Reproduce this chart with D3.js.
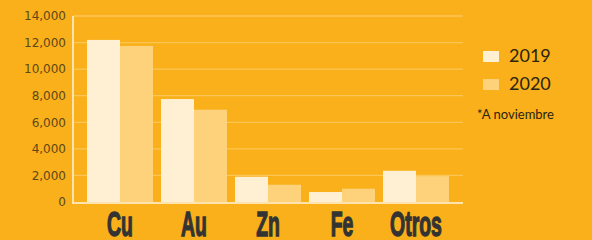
<!DOCTYPE html>
<html>
<head>
<meta charset="utf-8">
<script src="https://cdn.jsdelivr.net/npm/d3@7"></script>
<style>
  html, body { margin: 0; padding: 0; background: #f9b01b; }
  svg { display: block; }
</style>
</head>
<body>
<svg id="chart" width="592" height="240"></svg>
<script>
const categories = ["Cu", "Au", "Zn", "Fe", "Otros"];
const years = ["2019", "2020"];
const values2019 = [12200, 7750, 1900, 750, 2350];
const values2020 = [11750, 6950, 1300, 1000, 1950];
const yTicks = [0, 2000, 4000, 6000, 8000, 10000, 12000, 14000];
const note = "*A noviembre";

const colors = { "2019": "#fff0d3", "2020": "#fdd27b" };

const svg = d3.select("#chart");
const width = 592, height = 240;
const margin = { top: 16, right: 129, bottom: 38, left: 73 };

const data = categories.map((c, i) => ({
  cat: c,
  vals: [
    { year: "2019", v: values2019[i] },
    { year: "2020", v: values2020[i] },
  ],
}));

svg.append("rect").attr("width", width).attr("height", height).attr("fill", "#f9b01b");

const x = d3
  .scaleBand()
  .domain(categories)
  .range([margin.left, width - margin.right])
  .paddingInner(0.108)
  .paddingOuter(0.189);

const xInner = d3.scaleBand().domain(years).range([0, x.bandwidth()]);

const y = d3
  .scaleLinear()
  .domain([0, 14000])
  .range([height - margin.bottom, margin.top]);

// gridlines
svg
  .append("g")
  .selectAll("line")
  .data(yTicks.filter((d) => d > 0))
  .join("line")
  .attr("x1", margin.left)
  .attr("x2", width - margin.right)
  .attr("y1", (d) => y(d))
  .attr("y2", (d) => y(d))
  .attr("stroke", "#fbc655")
  .attr("stroke-width", 1.3);

// bars
svg
  .append("g")
  .selectAll("g")
  .data(data)
  .join("g")
  .attr("transform", (d) => `translate(${x(d.cat)},0)`)
  .selectAll("rect")
  .data((d) => d.vals)
  .join("rect")
  .attr("x", (d) => xInner(d.year))
  .attr("width", xInner.bandwidth())
  .attr("y", (d) => y(d.v))
  .attr("height", (d) => y(0) - y(d.v))
  .attr("fill", (d) => colors[d.year]);

// y axis
const yAxis = svg
  .append("g")
  .attr("transform", `translate(${margin.left},0)`)
  .call(d3.axisLeft(y).tickValues(yTicks).tickSize(0).tickPadding(7).tickFormat(d3.format(",")));
yAxis.select(".domain").remove();
yAxis
  .selectAll("text")
  .attr("font-family", "DejaVu Sans, sans-serif")
  .attr("font-size", 12)
  .attr("fill", "#5e4817");

// axis lines
svg
  .append("line")
  .attr("x1", margin.left)
  .attr("x2", margin.left)
  .attr("y1", y(14000))
  .attr("y2", y(0) + 1)
  .attr("stroke", "#fde3ad")
  .attr("stroke-width", 2);
svg
  .append("line")
  .attr("x1", margin.left - 1)
  .attr("x2", width - margin.right)
  .attr("y1", y(0) + 1)
  .attr("y2", y(0) + 1)
  .attr("stroke", "#fde3ad")
  .attr("stroke-width", 2);

// category labels (tall condensed look)
svg
  .append("g")
  .selectAll("text")
  .data(categories)
  .join("text")
  .attr("transform", (d) => `translate(${x(d) + x.bandwidth() / 2},236) scale(0.54,1)`)
  .attr("text-anchor", "middle")
  .attr("font-family", "Liberation Sans Narrow, Liberation Sans, sans-serif")
  .attr("font-weight", "bold")
  .attr("font-size", 36)
  .attr("fill", "#333333")
  .attr("stroke", "#333333")
  .attr("stroke-width", 1.4)
  .text((d) => d);

// legend
const legend = svg
  .append("g")
  .selectAll("g")
  .data(years)
  .join("g")
  .attr("transform", (d, i) => `translate(483,${51 + i * 28})`);
legend
  .append("rect")
  .attr("width", 16)
  .attr("height", 11)
  .attr("fill", (d) => colors[d]);
legend
  .append("text")
  .attr("x", 26)
  .attr("y", 11)
  .attr("font-family", "Lato, sans-serif")
  .attr("font-size", 18)
  .attr("fill", "#2b2410")
  .text((d) => d);

svg
  .append("text")
  .attr("x", 477)
  .attr("y", 119)
  .attr("font-family", "Lato, sans-serif")
  .attr("font-size", 13)
  .attr("fill", "#2b2410")
  .text(note);
</script>
</body>
</html>
